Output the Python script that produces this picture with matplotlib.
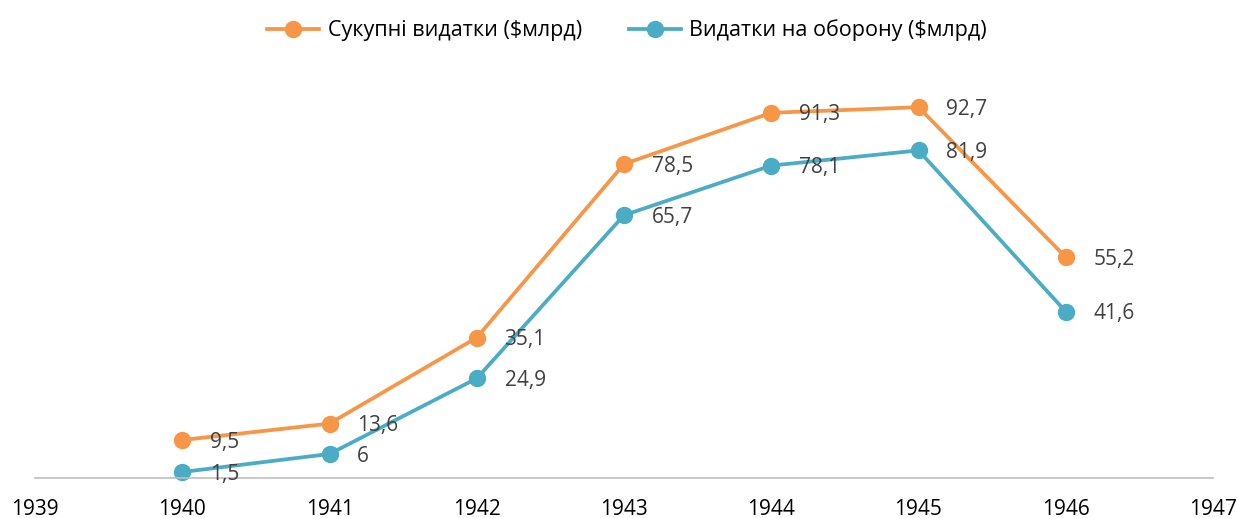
import matplotlib.pyplot as plt

plt.rcParams['font.family'] = ['Open Sans', 'DejaVu Sans']

years = [1940, 1941, 1942, 1943, 1944, 1945, 1946]
total = [9.5, 13.6, 35.1, 78.5, 91.3, 92.7, 55.2]
defense = [1.5, 6, 24.9, 65.7, 78.1, 81.9, 41.6]
xticks = list(range(1939, 1948))
names = ['Сукупні видатки ($млрд)', 'Видатки на оборону ($млрд)']

c_total = '#F79646'
c_def = '#4BACC6'
txt = '#404040'

fig = plt.figure(figsize=(12.37, 5.18), dpi=100)
ax = fig.add_axes([35/1237, 40/518, (1213-35)/1237, 400/518])

for vals, col, name in [(total, c_total, names[0]), (defense, c_def, names[1])]:
    ax.plot(years, vals, color=col, lw=2.7, marker='o', ms=11.5, label=name, clip_on=False)
    for x, v in zip(years, vals):
        ax.annotate(f"{v:g}".replace('.', ','), (x, v), xytext=(20, -1.5), textcoords='offset points',
                    ha='left', va='center', fontsize=15, color=txt)

ax.set_xlim(1939, 1947)
ax.set_ylim(0, 100)
ax.set_xticks(xticks)
ax.tick_params(axis='x', length=0, pad=15, labelsize=15, labelcolor='black')
ax.set_yticks([])
for s in ['top', 'right', 'left']:
    ax.spines[s].set_visible(False)
ax.spines['bottom'].set_color('#BFBFBF')
ax.spines['bottom'].set_linewidth(1.2)

fig.legend(loc='upper center', bbox_to_anchor=(0.507, 1.0), ncol=2, frameon=False,
           fontsize=15.5, handlelength=2.4, columnspacing=2.2, handletextpad=0.4)

fig.savefig('out.png', dpi=100)
